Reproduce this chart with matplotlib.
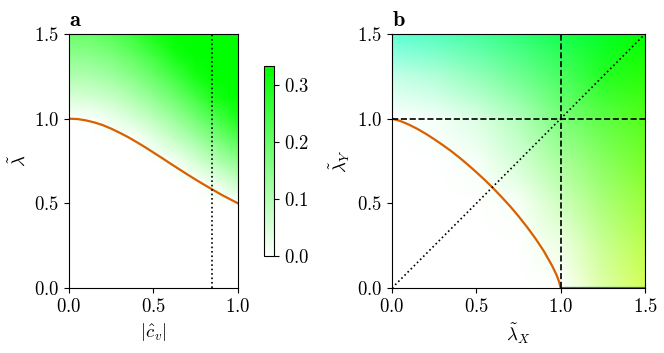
import numpy as np
import matplotlib
matplotlib.use("Agg")
import matplotlib.pyplot as plt
from matplotlib.colors import LinearSegmentedColormap, hsv_to_rgb

plt.rcParams["font.family"] = "serif"
plt.rcParams["font.serif"] = ["cmr10"]
plt.rcParams["mathtext.fontset"] = "cm"
plt.rcParams["axes.formatter.use_mathtext"] = True
plt.rcParams["font.size"] = 13.5

# --- panel a data ---
c_curve = [0.0, 0.05, 0.1, 0.15, 0.2, 0.25, 0.3, 0.35, 0.4, 0.45, 0.5,
           0.55, 0.6, 0.65, 0.7, 0.75, 0.8, 0.85, 0.9, 0.95, 1.0]
lam_curve = [1.000, 0.998, 0.990, 0.978, 0.962, 0.941, 0.917, 0.891, 0.862, 0.832, 0.800,
             0.768, 0.735, 0.703, 0.671, 0.640, 0.610, 0.581, 0.552, 0.526, 0.500]
c_mark = 0.844

grid_c = [0.0, 0.125, 0.25, 0.375, 0.5, 0.625, 0.75, 0.875, 1.0]
grid_lam = [0.0, 0.25, 0.375, 0.5, 0.625, 0.75, 0.875, 1.0, 1.125, 1.25, 1.375, 1.5]
field_a = [
    [0, 0, 0, 0, 0, 0, 0, 0, 0],
    [0, 0, 0, 0, 0, 0, 0, 0, 0],
    [0, 0, 0, 0, 0, 0, 0, 0, 0],
    [0, 0, 0, 0, 0, 0, 0, 0, 0],
    [0, 0, 0, 0, 0, 0, 0, 0.032, 0.075],
    [0, 0, 0, 0, 0, 0.014, 0.055, 0.101, 0.150],
    [0, 0, 0, 0, 0.033, 0.073, 0.118, 0.169, 0.225],
    [0, 0.006, 0.023, 0.051, 0.087, 0.131, 0.181, 0.238, 0.300],
    [0.050, 0.056, 0.074, 0.104, 0.143, 0.190, 0.244, 0.306, 0.34],
    [0.102, 0.106, 0.125, 0.156, 0.198, 0.248, 0.307, 0.34, 0.34],
    [0.148, 0.153, 0.173, 0.206, 0.250, 0.306, 0.34, 0.34, 0.34],
    [0.192, 0.199, 0.221, 0.256, 0.305, 0.34, 0.34, 0.34, 0.34],
]

# --- panel b data ---
x_curve = [0.0, 0.05, 0.1, 0.15, 0.2, 0.25, 0.3, 0.35, 0.4, 0.45, 0.5,
           0.55, 0.6, 0.65, 0.7, 0.75, 0.8, 0.85, 0.9, 0.95, 0.975, 0.99, 1.0]
y_curve = [1.0, 0.986, 0.965, 0.940, 0.911, 0.879, 0.845, 0.809, 0.770, 0.728, 0.684,
           0.638, 0.589, 0.537, 0.483, 0.424, 0.361, 0.293, 0.218, 0.130, 0.078, 0.039, 0.0]
x_flat = [1.0, 1.5]
y_flat = [0.0, 0.0]

# saturation and hue (deg) on a 0..1.5 grid, step 0.25 (rows = lambda_Y)
sat_b = [
    [0, 0, 0, 0, 0, 0.35, 0.66],
    [0, 0, 0, 0, 0.10, 0.42, 0.70],
    [0, 0, 0, 0.03, 0.25, 0.52, 0.77],
    [0, 0, 0.03, 0.17, 0.38, 0.62, 0.84],
    [0, 0.04, 0.14, 0.30, 0.52, 0.73, 0.90],
    [0.23, 0.30, 0.42, 0.56, 0.71, 0.86, 0.97],
    [0.63, 0.67, 0.73, 0.82, 0.92, 0.98, 1.0],
]
hue_b = [
    [120, 112, 105, 98, 90, 82, 75],
    [128, 120, 112, 105, 98, 90, 82],
    [135, 128, 120, 112, 105, 98, 90],
    [142, 135, 128, 120, 112, 105, 98],
    [150, 142, 135, 128, 120, 112, 105],
    [158, 150, 142, 135, 128, 120, 112],
    [165, 158, 150, 142, 135, 128, 120],
]

orange = "#d95f02"
cmap_a = LinearSegmentedColormap.from_list("wg", ["#ffffff", "#00ff00"])

fig = plt.figure(figsize=(6.64, 3.53), dpi=100)
ax_a = fig.add_axes([0.1039, 0.1841, 0.2545, 0.7195])
cax = fig.add_axes([0.3976, 0.2748, 0.0151, 0.538])
ax_b = fig.add_axes([0.5904, 0.1841, 0.381, 0.7195])

# panel a
mesh = ax_a.pcolormesh(grid_c, grid_lam, np.array(field_a), shading="gouraud",
                       cmap=cmap_a, vmin=0, vmax=1 / 3, rasterized=True)
ax_a.plot(c_curve, lam_curve, color=orange, lw=1.6)
ax_a.axvline(c_mark, color="k", ls=":", lw=1.2)
ax_a.set_xlim(0, 1)
ax_a.set_ylim(0, 1.5)
ax_a.set_xticks([0, 0.5, 1.0])
ax_a.set_yticks([0, 0.5, 1.0, 1.5])
ax_a.set_xlabel(r"$|\hat{c}_v|$")
ax_a.set_ylabel(r"$\tilde{\lambda}$")
ax_a.set_title(r"$\mathbf{a}$", loc="left", pad=6, fontsize=16)

cb = fig.colorbar(mesh, cax=cax)
cb.set_ticks([0.0, 0.1, 0.2, 0.3])

# panel b
hsv = np.dstack([np.array(hue_b) / 360.0, np.array(sat_b), np.ones((7, 7))])
rgb = hsv_to_rgb(hsv)
ax_b.imshow(rgb, origin="lower", extent=(-0.125, 1.625, -0.125, 1.625),
            interpolation="bilinear", aspect="auto")
ax_b.plot(x_curve, y_curve, color=orange, lw=1.6)
ax_b.plot(x_flat, y_flat, color="#1f77b4", lw=1.6)
ax_b.axvline(1.0, color="k", ls="--", lw=1.2)
ax_b.axhline(1.0, color="k", ls="--", lw=1.2)
ax_b.plot([0, 1.5], [0, 1.5], color="k", ls=":", lw=1.2)
ax_b.set_xlim(0, 1.5)
ax_b.set_ylim(0, 1.5)
ax_b.set_xticks([0, 0.5, 1.0, 1.5])
ax_b.set_yticks([0, 0.5, 1.0, 1.5])
ax_b.set_xlabel(r"$\tilde{\lambda}_X$")
ax_b.set_ylabel(r"$\tilde{\lambda}_Y$")
ax_b.set_title(r"$\mathbf{b}$", loc="left", pad=6, fontsize=16)

fig.savefig("out.png", dpi=100)
